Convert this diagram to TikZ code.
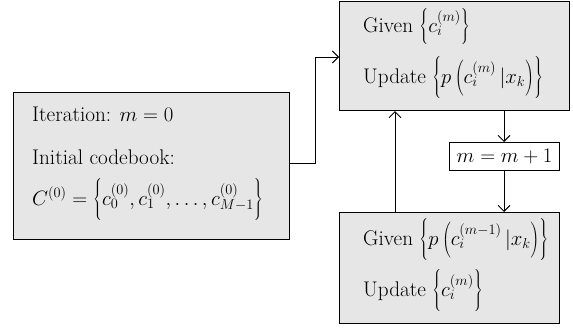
\documentclass[tikz,border=0pt]{standalone}
\usetikzlibrary{arrows.meta}
\definecolor{boxgray}{HTML}{E6E6E6}
\newcommand{\sth}[2]{\vrule height #1 depth #2 width 0pt}
\delimiterfactor=1000\relax
\delimitershortfall=0pt\relax
\begin{document}
\begin{tikzpicture}[x=1pt,y=-1pt,
  box/.style={draw=black, line width=1.1pt, fill=boxgray, inner sep=0pt, anchor=north west},
  wbox/.style={draw=black, line width=1.1pt, fill=white, inner sep=0pt, anchor=north west},
  txt/.style={anchor=base west, inner sep=0pt, font=\fontsize{21.2}{25}\selectfont},
  conn/.style={line width=0.9pt, -{Straight Barb[length=6pt,width=12pt]}}
]
\useasboundingbox (0,0) rectangle (573,327);
% boxes
\node[box, minimum width=276pt, minimum height=147pt] (init) at (13,92) {};
\node[box, minimum width=230pt, minimum height=109pt] (estep) at (339,1) {};
\node[wbox, minimum width=110pt, minimum height=28pt] (inc) at (449,142) {};
\node[box, minimum width=220pt, minimum height=111pt] (mstep) at (339,212) {};
% texts
\node[txt] (t1) at (32,121) {Iteration: $m = 0$};
\node[txt] (t2) at (32,164) {Initial codebook:};
\node[txt] (t3) at (32,205) {$C^{(0)} = \left\{\sth{18pt}{15.5pt}c_0^{(0)}, c_1^{(0)}, \ldots, c_{M-1}^{(0)}\right\}$};
\node[txt] (e1) at (363,32) {Given $\left\{\sth{16pt}{12.5pt}c_i^{(m)}\right\}$};
\node[txt] (e2) at (363,83) {Update $\left\{\sth{18pt}{15.5pt}p\left(\sth{15pt}{12pt}c_i^{(m)}\,|x_k\right)\right\}$};
\node[txt] (m1) at (363,245) {Given $\left\{\sth{18pt}{15.5pt}p\left(\sth{15pt}{12pt}c_i^{(m-1)}\,|x_k\right)\right\}$};
\node[txt] (m2) at (363,296) {Update $\left\{\sth{16pt}{13.5pt}c_i^{(m)}\right\}$};
\node[anchor=center, inner sep=0pt, font=\fontsize{21.2}{25}\selectfont] (inct) at (inc.center) {$m = m+1$};
% connectors
\coordinate (c1) at (315,163);
\coordinate (c2) at (315,57);
\draw[conn] (init.east |- c1) -- (c1) -- (c2) -- (estep.west |- c2);
\coordinate (ex) at (504,0);
\draw[conn] (estep.south -| ex) -- (inc.north -| ex);
\draw[conn] (inc.south -| ex) -- (mstep.north -| ex);
\coordinate (ux) at (395,0);
\draw[conn] (mstep.north -| ux) -- (estep.south -| ux);
\end{tikzpicture}
\end{document}
